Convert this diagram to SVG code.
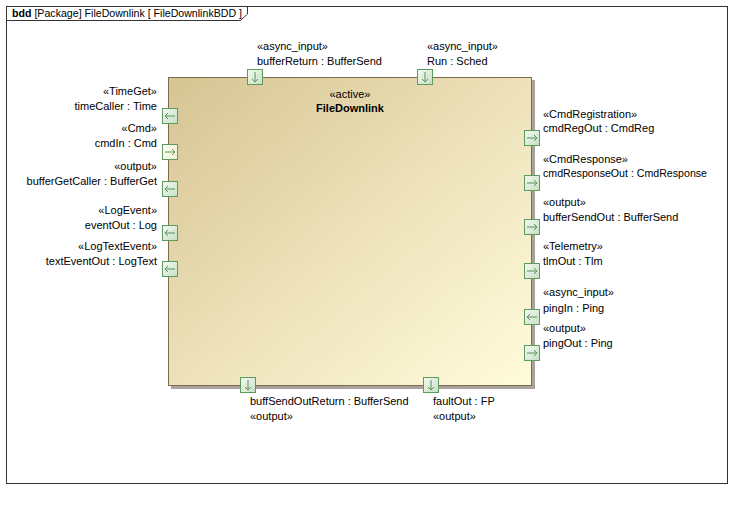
<svg xmlns="http://www.w3.org/2000/svg" width="753" height="508" viewBox="0 0 753 508">
  <defs>
    <linearGradient id="blockFill" x1="0" y1="0" x2="1" y2="1">
      <stop offset="0" stop-color="#d6c493"/>
      <stop offset="0.5" stop-color="#ede1b9"/>
      <stop offset="1" stop-color="#fffcdc"/>
    </linearGradient>
    <linearGradient id="portFill" x1="0" y1="0" x2="1" y2="1">
      <stop offset="0" stop-color="#f4faf2"/>
      <stop offset="1" stop-color="#c6dfc4"/>
    </linearGradient>
    <linearGradient id="portFillIn" x1="0" y1="0" x2="1" y2="1">
      <stop offset="0" stop-color="#fffff4"/>
      <stop offset="1" stop-color="#eef3d8"/>
    </linearGradient>
    <!-- port arrow glyphs, drawn inside a 15x15 port box centred at 0,0 -->
    <g id="arrowL"><path d="M5,0 H-5 M-2,-3 L-5,0 L-2,3" class="arr"/></g>
    <g id="arrowR"><path d="M-5,0 H5 M2,-3 L5,0 L2,3" class="arr"/></g>
    <g id="arrowD"><path d="M0,-5 V5 M-3,2 L0,5 L3,2" class="arr"/></g>
  </defs>
  <style>
    text { font-family: "Liberation Sans", Arial, sans-serif; font-size: 11px; fill: #000; }
    .r { text-anchor: end; }
    .c { text-anchor: middle; }
    .b { font-weight: bold; }
    .port { fill: url(#portFill); stroke: #5e9a5e; stroke-width: 1; }
    .portIn { fill: url(#portFillIn); stroke: #5e9a5e; stroke-width: 1; }
    .arr { fill: none; stroke: #5a925a; stroke-width: 1; }
  </style>

  <rect x="0" y="0" width="753" height="508" fill="#fff"/>

  <!-- diagram frame with name tab -->
  <g id="frame">
    <rect x="6.5" y="6.5" width="721" height="477" fill="none" stroke="#333" stroke-width="1"/>
    <path d="M6.5,20.5 H240.5 L247.5,14 V6.5" fill="none" stroke="#333" stroke-width="1"/>
    <text x="12" y="17" textLength="230" lengthAdjust="spacingAndGlyphs"><tspan class="b">bdd</tspan> [Package] FileDownlink [ FileDownlinkBDD ]</text>
  </g>

  <!-- block -->
  <g id="FileDownlink">
    <rect x="171" y="80" width="364" height="309" fill="#a8a49c"/>
    <rect x="168.5" y="77.5" width="363" height="308" fill="url(#blockFill)" stroke="#7c6c4e" stroke-width="1"/>
    <text class="c" x="350" y="98">«active»</text>
    <text class="c b" x="350" y="112">FileDownlink</text>
  </g>

  <g id="connectors"/>

  <!-- top ports -->
  <g id="port-bufferReturn">
    <rect class="port" x="247.5" y="69.5" width="15" height="15"/>
    <use href="#arrowD" x="255" y="77"/>
    <text x="257" y="50">«async_input»</text>
    <text x="257" y="65">bufferReturn : BufferSend</text>
  </g>
  <g id="port-Run">
    <rect class="port" x="417.5" y="69.5" width="15" height="15"/>
    <use href="#arrowD" x="425" y="77"/>
    <text x="427" y="50">«async_input»</text>
    <text x="427" y="65">Run : Sched</text>
  </g>

  <!-- left ports -->
  <g id="port-timeCaller">
    <rect class="port" x="162.5" y="108.5" width="15" height="15"/>
    <use href="#arrowL" x="170" y="116"/>
    <text class="r" x="157" y="95">«TimeGet»</text>
    <text class="r" x="157" y="110">timeCaller : Time</text>
  </g>
  <g id="port-cmdIn">
    <rect class="portIn" x="162.5" y="144.5" width="15" height="15"/>
    <use href="#arrowR" x="170" y="152"/>
    <text class="r" x="157" y="132">«Cmd»</text>
    <text class="r" x="157" y="147">cmdIn : Cmd</text>
  </g>
  <g id="port-bufferGetCaller">
    <rect class="port" x="162.5" y="181.5" width="15" height="15"/>
    <use href="#arrowL" x="170" y="189"/>
    <text class="r" x="157" y="170">«output»</text>
    <text class="r" x="157" y="185">bufferGetCaller : BufferGet</text>
  </g>
  <g id="port-eventOut">
    <rect class="port" x="162.5" y="225.5" width="15" height="15"/>
    <use href="#arrowL" x="170" y="233"/>
    <text class="r" x="157" y="214">«LogEvent»</text>
    <text class="r" x="157" y="229">eventOut : Log</text>
  </g>
  <g id="port-textEventOut">
    <rect class="port" x="162.5" y="261.5" width="15" height="15"/>
    <use href="#arrowL" x="170" y="269"/>
    <text class="r" x="157" y="250">«LogTextEvent»</text>
    <text class="r" x="157" y="265">textEventOut : LogText</text>
  </g>

  <!-- right ports -->
  <g id="port-cmdRegOut">
    <rect class="port" x="524.5" y="130.5" width="15" height="15"/>
    <use href="#arrowR" x="532" y="138"/>
    <text x="543" y="118">«CmdRegistration»</text>
    <text x="543" y="132">cmdRegOut : CmdReg</text>
  </g>
  <g id="port-cmdResponseOut">
    <rect class="port" x="524.5" y="175.5" width="15" height="15"/>
    <use href="#arrowR" x="532" y="183"/>
    <text x="543" y="163">«CmdResponse»</text>
    <text x="543" y="177" textLength="164" lengthAdjust="spacingAndGlyphs">cmdResponseOut : CmdResponse</text>
  </g>
  <g id="port-bufferSendOut">
    <rect class="port" x="524.5" y="219.5" width="15" height="15"/>
    <use href="#arrowR" x="532" y="227"/>
    <text x="543" y="206">«output»</text>
    <text x="543" y="221">bufferSendOut : BufferSend</text>
  </g>
  <g id="port-tlmOut">
    <rect class="port" x="524.5" y="263.5" width="15" height="15"/>
    <use href="#arrowR" x="532" y="271"/>
    <text x="543" y="250">«Telemetry»</text>
    <text x="543" y="265">tlmOut : Tlm</text>
  </g>
  <g id="port-pingIn">
    <rect class="port" x="524.5" y="309.5" width="15" height="15"/>
    <use href="#arrowL" x="532" y="317"/>
    <text x="543" y="296">«async_input»</text>
    <text x="543" y="312">pingIn : Ping</text>
  </g>
  <g id="port-pingOut">
    <rect class="port" x="524.5" y="345.5" width="15" height="15"/>
    <use href="#arrowR" x="532" y="353"/>
    <text x="543" y="332">«output»</text>
    <text x="543" y="347">pingOut : Ping</text>
  </g>

  <!-- bottom ports -->
  <g id="port-buffSendOutReturn">
    <rect class="port" x="240.5" y="377.5" width="15" height="15"/>
    <use href="#arrowD" x="248" y="385"/>
    <text x="250" y="405">buffSendOutReturn : BufferSend</text>
    <text x="250" y="420">«output»</text>
  </g>
  <g id="port-faultOut">
    <rect class="port" x="423.5" y="377.5" width="15" height="15"/>
    <use href="#arrowD" x="431" y="385"/>
    <text x="433" y="405">faultOut : FP</text>
    <text x="433" y="420">«output»</text>
  </g>
</svg>
